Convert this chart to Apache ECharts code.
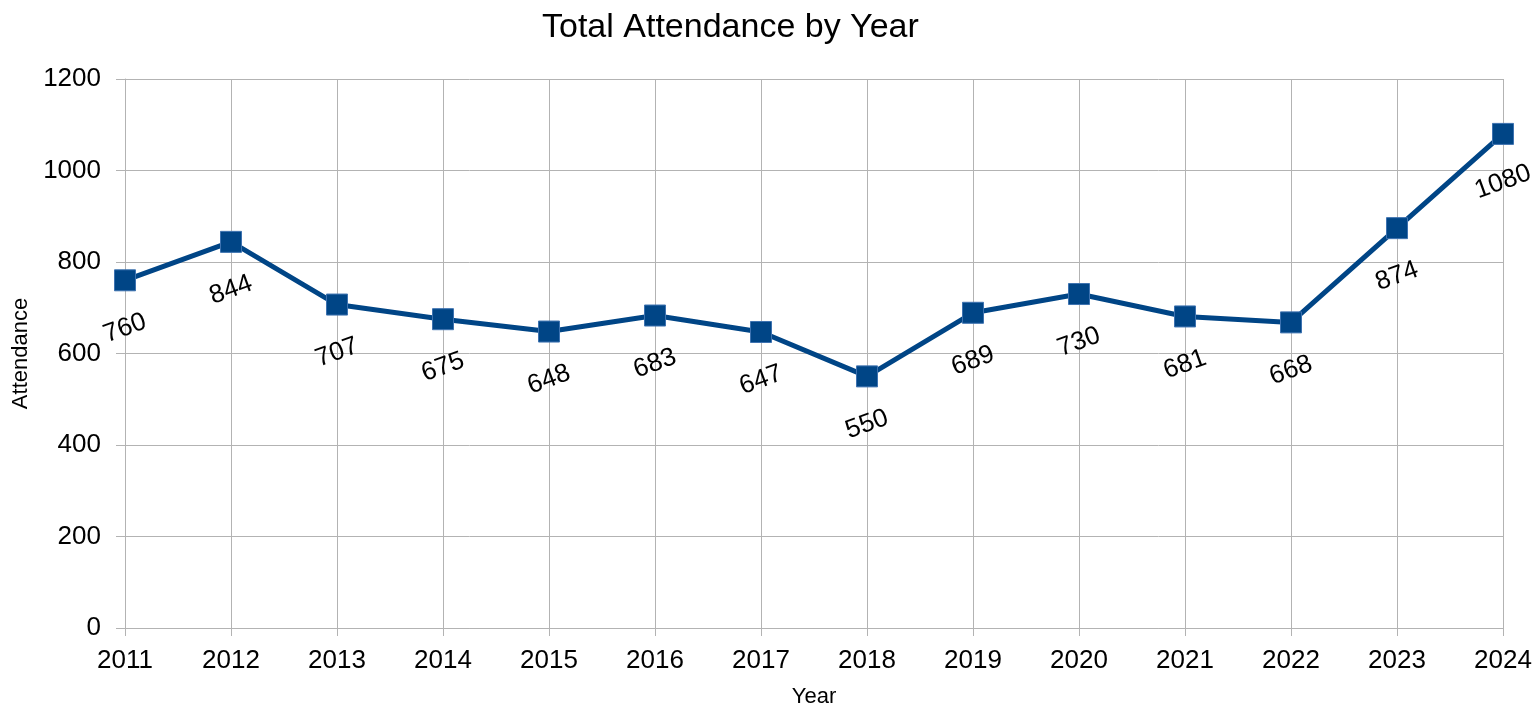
<!DOCTYPE html>
<html>
<head>
<meta charset="utf-8">
<script src="https://cdn.jsdelivr.net/npm/echarts@6/dist/echarts.min.js"></script>
<style>
html,body{margin:0;padding:0;background:#fff;}
#chart{width:1534px;height:707px;}
</style>
</head>
<body>
<div id="chart"></div>
<script>
var years = ['2011','2012','2013','2014','2015','2016','2017','2018','2019','2020','2021','2022','2023','2024'];
var attendance = [760, 844, 707, 675, 648, 683, 647, 550, 689, 730, 681, 668, 874, 1080];
var chartTitle = 'Total Attendance by Year';
var xName = 'Year';
var yName = 'Attendance';

var font = '"Liberation Sans", Arial, sans-serif';
var chart = echarts.init(document.getElementById('chart'), null, {renderer: 'canvas'});
chart.setOption({
  animation: false,
  backgroundColor: '#ffffff',
  title: {
    text: chartTitle,
    left: 542,
    top: 11,
    padding: 0,
    textStyle: {fontFamily: font, fontSize: 34, fontWeight: 'normal', color: '#000'}
  },
  grid: {left: 125, right: 31, top: 79, bottom: 79, containLabel: false, outerBoundsMode: 'none'},
  xAxis: {
    type: 'category',
    data: years,
    boundaryGap: false,
    name: xName,
    nameLocation: 'middle',
    nameGap: 58,
    nameTextStyle: {fontFamily: font, fontSize: 22, color: '#000'},
    axisLine: {show: true, lineStyle: {color: '#b3b3b3', width: 1}},
    axisTick: {show: true, inside: false, length: 8, lineStyle: {color: '#b3b3b3'}},
    axisLabel: {fontFamily: font, fontSize: 26, color: '#000', margin: 20},
    splitLine: {show: true, lineStyle: {color: '#b3b3b3', width: 1}}
  },
  yAxis: {
    type: 'value',
    min: 0,
    max: 1200,
    interval: 200,
    name: yName,
    nameLocation: 'middle',
    nameGap: 93,
    nameTextStyle: {fontFamily: font, fontSize: 22, color: '#000'},
    axisLine: {show: true, lineStyle: {color: '#b3b3b3', width: 1}},
    axisTick: {show: true, inside: false, length: 9, lineStyle: {color: '#b3b3b3'}},
    axisLabel: {fontFamily: font, fontSize: 26, color: '#000', margin: 24,
      formatter: function (v) { return String(v); }},
    splitLine: {show: true, lineStyle: {color: '#b3b3b3', width: 1}}
  },
  series: [{
    type: 'line',
    data: attendance,
    symbol: 'rect',
    symbolSize: 21,
    itemStyle: {color: '#004586', borderColor: '#3d72b0', borderWidth: 1},
    lineStyle: {color: '#004586', width: 5},
    label: {
      show: true,
      position: 'bottom',
      distance: 37,
      rotate: 20,
      align: 'center',
      verticalAlign: 'middle',
      fontFamily: font,
      fontSize: 26,
      color: '#000'
    }
  }]
});
</script>
</body>
</html>
